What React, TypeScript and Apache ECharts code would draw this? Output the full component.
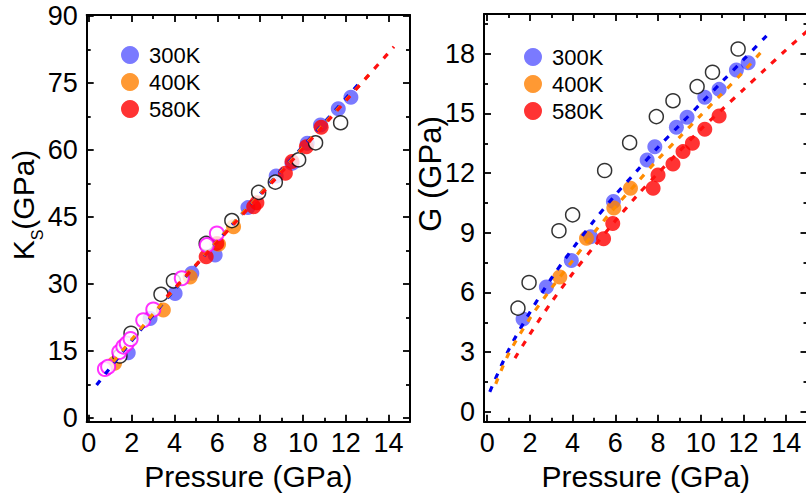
import React, { useEffect, useRef } from 'react';
import * as echarts from 'echarts';

// ---------- tick values ----------
const X_MAJOR = [0, 2, 4, 6, 8, 10, 12, 14];
const X_MINOR = [1, 3, 5, 7, 9, 11, 13];
const KS_MAJOR = [0, 15, 30, 45, 60, 75, 90];
const KS_MINOR = [7.5, 22.5, 37.5, 52.5, 67.5, 82.5];
const G_MAJOR = [0, 3, 6, 9, 12, 15, 18];
const G_MINOR = [1.5, 4.5, 7.5, 10.5, 13.5, 16.5, 19.5];

const LEGEND_NAMES = ['300K', '400K', '580K'];

// ---------- left panel: Ks vs pressure ----------
const ks300 = [[1.84, 14.6], [2.86, 22.3], [4.03, 27.9], [4.81, 32.4], [5.9, 36.5], [7.43, 47.1], [8.75, 54.2], [9.49, 57.0], [10.2, 61.5], [10.82, 65.6], [11.65, 69.2], [12.24, 71.8]];
const ks400 = [[1.2, 12.3], [3.48, 24.2], [4.73, 31.6], [6.06, 38.9], [6.76, 42.8]];
const ks580 = [[5.48, 36.1], [5.98, 39.1], [7.7, 47.3], [7.85, 48.2], [9.18, 54.8], [9.49, 57.4], [10.16, 60.7], [10.85, 65.1]];
const ksBlackOpen = [[1.45, 13.9], [1.97, 19.0], [3.37, 27.7], [3.95, 30.7], [5.48, 39.1], [6.68, 44.2], [7.93, 50.5], [8.71, 52.8], [9.8, 57.8], [10.59, 61.6], [11.76, 66.1]];
const ksMagentaOpen = [[0.75, 11.0], [0.9, 11.5], [1.42, 14.8], [1.61, 16.0], [1.77, 16.7], [1.95, 17.7], [2.54, 21.9], [3.01, 24.3], [4.34, 31.3], [5.51, 38.7], [5.98, 41.3]];
const ksFit300 = [[0.36, 7.4], [2, 17.3], [4, 28.7], [6, 39.6], [8, 50.2], [10, 60.8], [12.62, 74.9]];
const ksFit400 = [[1.14, 12.6], [3, 23.3], [5, 34.3], [7, 44.9], [9, 55.3], [11, 65.9], [13.08, 76.8]];
const ksFit580 = [[3.64, 27.2], [6, 39.4], [8, 49.8], [10, 60.3], [12, 71.0], [14.25, 83.1]];

// ---------- right panel: G vs pressure ----------
const g300 = [[1.68, 4.66], [2.77, 6.27], [3.94, 7.6], [4.84, 8.8], [5.91, 10.57], [7.49, 12.66], [7.85, 13.33], [8.86, 14.3], [9.36, 14.81], [10.19, 15.81], [10.86, 16.21], [11.67, 17.19], [12.22, 17.55]];
const g400 = [[3.4, 6.77], [4.65, 8.73], [5.93, 10.24], [6.71, 11.24]];
const g580 = [[5.45, 8.7], [5.88, 9.46], [7.77, 11.24], [8.0, 11.91], [8.7, 12.46], [9.17, 13.08], [9.61, 13.5], [10.19, 14.21], [10.86, 14.87]];
const gBlackOpen = [[1.44, 5.21], [1.96, 6.5], [3.36, 9.1], [4.0, 9.9], [5.5, 12.13], [6.67, 13.53], [7.92, 14.84], [8.7, 15.64], [9.83, 16.35], [10.55, 17.07], [11.75, 18.24]];
const gFit300 = [[0.12, 1.0], [1, 3.1], [2, 5.0], [3, 6.7], [4, 8.2], [5, 9.6], [6, 10.9], [7, 12.1], [8, 13.3], [9, 14.4], [10, 15.5], [11, 16.6], [12, 17.7], [13.08, 18.9]];
const gFit400 = [[0.4, 1.4], [1, 2.9], [2, 4.7], [3, 6.2], [4, 7.6], [5, 9.0], [6, 10.3], [7, 11.5], [8, 12.7], [9, 13.8], [10, 14.9], [11, 16.0], [12, 17.1], [12.92, 18.2]];
const gFit580 = [[1.3, 2.7], [2, 3.9], [3, 5.5], [4, 6.95], [5, 8.3], [6, 9.6], [7, 10.85], [8, 12.0], [9, 13.1], [10, 14.2], [11, 15.2], [12, 16.2], [13, 17.2], [14, 18.2], [15, 19.15]];

const FONT = "'Liberation Sans', Arial, sans-serif";

const C_BLUE = 'rgba(0,0,255,0.65)';
const C_ORANGE = '#ff8000';
const C_RED = '#ff0000';
const L_BLUE = '#0000ee';
const L_ORANGE = '#ff8c00';
const L_RED = '#ff1010';

function makeAxes(dim: 'x' | 'y', gridIndex: number, min: number, max: number, major: number[], minor: number[], name: string | undefined, labelMargin: number) {
  const sides = dim === 'x' ? ['bottom', 'top'] : ['left', 'right'];
  const out: any[] = [];
  sides.forEach((pos, si) => {
    const base = { type: 'value', gridIndex, min, max, position: pos, splitLine: { show: false } };
    out.push({
      ...base,
      name: si === 0 ? name : undefined,
      nameLocation: 'middle',
      nameGap: 39,
      nameTextStyle: { fontSize: 30, fontFamily: FONT, color: '#000' },
      axisLine: { show: true, onZero: false, lineStyle: { color: '#000', width: 2 } },
      axisTick: { show: true, inside: true, length: 7, customValues: major, lineStyle: { color: '#000', width: 1.8 } },
      axisLabel: si === 0
        ? { show: true, customValues: major, margin: labelMargin, fontSize: 27, fontFamily: FONT, color: '#000' }
        : { show: false },
    });
    out.push({
      ...base,
      axisLine: { show: false, onZero: false },
      axisTick: { show: true, inside: true, length: 4, customValues: minor, lineStyle: { color: '#000', width: 1.8 } },
      axisLabel: { show: false },
    });
  });
  return out;
}

function scatter(name: string, data: number[][], axis: number, color: string, size: number) {
  return {
    type: 'scatter', name, data, xAxisIndex: axis, yAxisIndex: axis,
    symbol: 'circle', symbolSize: size,
    itemStyle: { color, borderWidth: 0 },
  };
}
function openScatter(name: string, data: number[][], axis: number, stroke: string, bw: number) {
  return {
    type: 'scatter', name, data, xAxisIndex: axis, yAxisIndex: axis,
    symbol: 'circle', symbolSize: 14,
    itemStyle: { color: '#fff', borderColor: stroke, borderWidth: bw },
  };
}
function fit(name: string, data: number[][], axis: number, color: string) {
  return {
    type: 'line', name, data, xAxisIndex: axis, yAxisIndex: axis,
    showSymbol: false, symbol: 'none', smooth: 0.3,
    lineStyle: { color, width: 3.2, type: [6, 8] },
  };
}

export default function App() {
  const ref = useRef<HTMLDivElement>(null);
  useEffect(() => {
    if (!ref.current) return;
    const chart = echarts.init(ref.current, undefined, { renderer: 'svg' });
    const legendBase = {
      data: LEGEND_NAMES, orient: 'vertical', icon: 'circle',
      itemWidth: 28, itemHeight: 18, itemGap: 5, selectedMode: false,
      textStyle: { fontSize: 22, lineHeight: 22, fontFamily: FONT, color: '#000' },
    };
    const option: any = {
      animation: false,
      backgroundColor: '#fff',
      grid: [
        { left: 86.7, top: 15, width: 323.3, height: 406.7, outerBoundsMode: 'none', containLabel: false },
        { left: 484, top: 14, width: 323.5, height: 407.7, outerBoundsMode: 'none', containLabel: false },
      ],
      xAxis: [
        ...makeAxes('x', 0, -0.1, 15, X_MAJOR, X_MINOR, 'Pressure (GPa)', 8),
        ...makeAxes('x', 1, -0.15, 15, X_MAJOR, X_MINOR, 'Pressure (GPa)', 8),
      ],
      yAxis: [
        ...makeAxes('y', 0, -0.8, 90.2, KS_MAJOR, KS_MINOR, undefined, 9),
        ...makeAxes('y', 1, -0.5, 20, G_MAJOR, G_MINOR, undefined, 9),
      ],
      legend: [
        { ...legendBase, left: 116, top: 39 },
        { ...legendBase, left: 519, top: 41 },
      ],
      graphic: [
        {
          type: 'text', x: 8, y: 205, rotation: Math.PI / 2,
          style: {
            text: '{k|K}{s|S}{k|(GPa)}',
            rich: {
              k: { fontSize: 30, lineHeight: 30, verticalAlign: 'top', fontFamily: FONT, fill: '#000' },
              s: { fontSize: 16, lineHeight: 16, padding: [21, 0, 0, 0], verticalAlign: 'top', fontFamily: FONT, fill: '#000' },
            },
            align: 'center', verticalAlign: 'top', fill: '#000',
          },
        },
        {
          type: 'text', x: 415, y: 174, rotation: Math.PI / 2,
          style: { text: 'G (GPa)', fontSize: 31, lineHeight: 31, fontFamily: FONT, align: 'center', verticalAlign: 'top', fill: '#000' },
        },
      ],
      series: [
        fit('fit300', ksFit300, 0, L_BLUE),
        fit('fit400', ksFit400, 0, L_ORANGE),
        fit('fit580', ksFit580, 0, L_RED),
        scatter('300K', ks300, 0, C_BLUE, 15),
        scatter('400K', ks400, 0, C_ORANGE, 15),
        scatter('580K', ks580, 0, C_RED, 15),
        openScatter('refBlack', ksBlackOpen, 0, '#000', 1.5),
        openScatter('refMagenta', ksMagentaOpen, 0, '#ff00ff', 2),

        fit('gfit300', gFit300, 4, L_BLUE),
        fit('gfit400', gFit400, 4, L_ORANGE),
        fit('gfit580', gFit580, 4, L_RED),
        scatter('300K', g300, 4, C_BLUE, 15),
        scatter('400K', g400, 4, C_ORANGE, 15),
        scatter('580K', g580, 4, C_RED, 15),
        openScatter('gRefBlack', gBlackOpen, 4, '#000', 1.5),
      ],
    };
    chart.setOption(option);
    return () => chart.dispose();
  }, []);
  return <div ref={ref} style={{ position: 'fixed', left: 0, top: 0, width: 806, height: 501 }} />;
}
